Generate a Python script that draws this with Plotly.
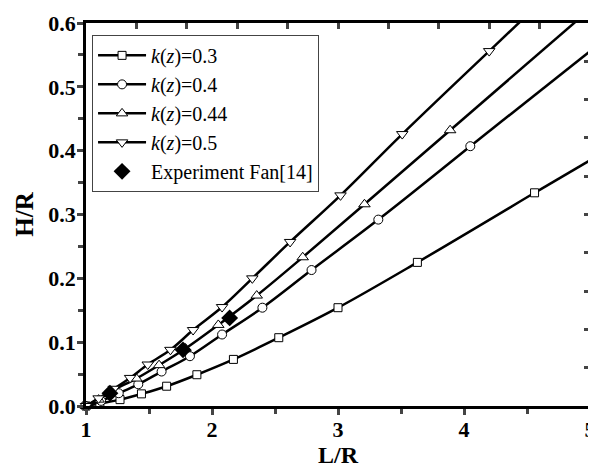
import numpy as np
import plotly.graph_objects as go

# k(z)=0.3
x_03 = [1.0, 1.11, 1.27, 1.44, 1.64, 1.88, 2.17, 2.53, 3.0, 3.63, 4.56]
y_03 = [0.0, 0.004, 0.010, 0.019, 0.031, 0.049, 0.073, 0.107, 0.154, 0.225, 0.334]
# k(z)=0.4
x_04 = [1.0, 1.12, 1.26, 1.415, 1.60, 1.825, 2.08, 2.40, 2.79, 3.32, 4.05]
y_04 = [0.0, 0.008, 0.020, 0.034, 0.054, 0.078, 0.112, 0.154, 0.213, 0.292, 0.407]
# k(z)=0.44
x_044 = [1.0, 1.10, 1.20, 1.40, 1.58, 1.79, 2.05, 2.355, 2.72, 3.21, 3.89]
y_044 = [0.0, 0.010, 0.023, 0.043, 0.064, 0.090, 0.127, 0.173, 0.233, 0.316, 0.432]
# k(z)=0.5
x_05 = [1.0, 1.10, 1.22, 1.35, 1.49, 1.67, 1.85, 2.08, 2.32, 2.62, 3.02, 3.51, 4.20]
y_05 = [0.0, 0.012, 0.027, 0.044, 0.065, 0.088, 0.119, 0.155, 0.200, 0.257, 0.330, 0.426, 0.556]
# where the curves run out of the frame
x_end = [5.2, 5.2, 5.05, 4.6]
y_end = [0.408, 0.587, 0.630, 0.631]

# experiment Fan[14]
x_exp = [1.19, 1.77, 2.14]
y_exp = [0.020, 0.088, 0.138]

names = ["<i>k</i>(<i>z</i>)=0.3", "<i>k</i>(<i>z</i>)=0.4",
         "<i>k</i>(<i>z</i>)=0.44", "<i>k</i>(<i>z</i>)=0.5"]
xs = [x_03, x_04, x_044, x_05]
ys = [y_03, y_04, y_044, y_05]
symbols = ["square", "circle", "triangle-up", "triangle-down"]
sizes = [8, 9, 10, 10]

fig = go.Figure()

for i in range(4):
    # tail of the curve past the last marker
    fig.add_trace(go.Scatter(
        x=[xs[i][-1], x_end[i]], y=[ys[i][-1], y_end[i]],
        mode="lines", line=dict(color="black", width=2.5),
        showlegend=False, hoverinfo="skip"))
    fig.add_trace(go.Scatter(
        x=xs[i], y=ys[i], name=names[i], mode="lines+markers",
        line=dict(color="black", width=2.5, shape="spline"),
        marker=dict(symbol=symbols[i], size=sizes[i], color="white",
                    line=dict(color="black", width=1)),
        cliponaxis=False))

fig.add_trace(go.Scatter(
    x=x_exp, y=y_exp, name="Experiment Fan[14]", mode="markers",
    marker=dict(symbol="diamond", size=13, color="black"),
    cliponaxis=False))

tickfont = dict(family="Liberation Serif", size=22, color="black", weight="bold")

# the page body has an 8px margin, so the figure is 8px smaller than the window
fig.update_layout(
    width=588, height=461,
    margin=dict(l=78, r=6, t=15, b=63),
    plot_bgcolor="white", paper_bgcolor="white",
    font=dict(family="Liberation Serif", color="black"),
    legend=dict(x=0.012, y=0.969, xanchor="left", yanchor="top",
                bordercolor="#444", borderwidth=1, bgcolor="white",
                font=dict(family="Liberation Serif", size=20),
                tracegroupgap=0, itemwidth=48),
    xaxis=dict(range=[1, 5], dtick=1, tickformat="d", automargin=False,
               ticks="outside", ticklen=6, tickwidth=2.5, ticklabelstandoff=-4,
               showline=True, linewidth=2.5, linecolor="black",
               showgrid=False, zeroline=False, tickfont=tickfont,
               minor=dict(dtick=0.5, ticks="outside", ticklen=5, tickwidth=2.5),
               title=dict(text="<b>L/R</b>", font=dict(size=24), standoff=2)),
    yaxis=dict(range=[0, 0.6], dtick=0.1, tickformat=".1f", automargin=False,
               ticks="outside", ticklen=6, tickwidth=2.5, ticklabelstandoff=-3,
               showline=True, linewidth=2.5, linecolor="black",
               showgrid=False, zeroline=False, tickfont=tickfont,
               minor=dict(dtick=0.05, ticks="outside", ticklen=5, tickwidth=2.5),
               title=dict(text="<b>H/R</b>", font=dict(size=25), standoff=8)),
    xaxis2=dict(range=[1, 5], overlaying="x", side="top", automargin=False,
                tickvals=list(np.linspace(1, 5, 11)), ticks="inside",
                ticklen=6, tickwidth=2.5, showticklabels=False,
                showline=True, linewidth=2.5, linecolor="black",
                showgrid=False, zeroline=False),
    yaxis2=dict(range=[0, 0.6], overlaying="y", side="right", automargin=False,
                tickvals=list(np.linspace(0, 0.6, 11)), ticks="inside",
                ticklen=6, tickwidth=2.5, showticklabels=False,
                showline=True, linewidth=2.5, linecolor="black",
                showgrid=False, zeroline=False),
)

# invisible trace so the frame axes get drawn
fig.add_trace(go.Scatter(x=[1], y=[0], xaxis="x2", yaxis="y2",
                         mode="markers", marker=dict(opacity=0),
                         showlegend=False, hoverinfo="skip"))

fig.write_html("out.html")
